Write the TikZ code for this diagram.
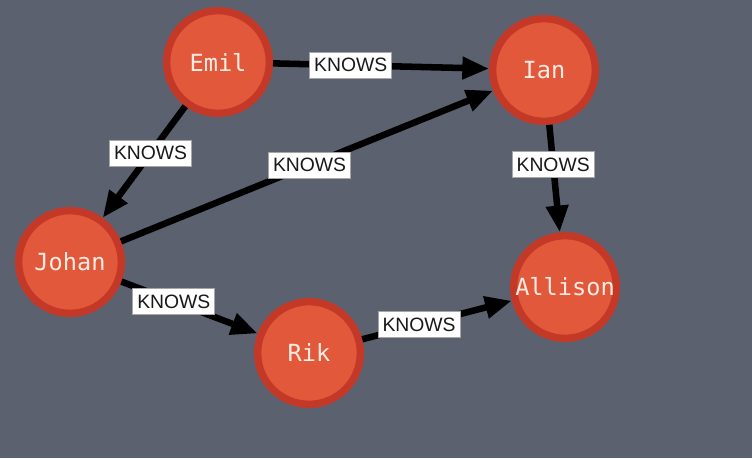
\documentclass[tikz,border=0pt]{standalone}
\usepackage{fontspec}
\setmainfont{Liberation Sans}
\newfontfamily\namefont{DejaVu Sans Mono}
\usetikzlibrary{arrows.meta}
\definecolor{bg}{RGB}{92,97,112}
\definecolor{nodefill}{RGB}{226,88,58}
\definecolor{nodeborder}{RGB}{196,56,40}
\definecolor{nametext}{RGB}{253,236,228}
\begin{document}
\begin{tikzpicture}[x=0.75pt,y=-0.75pt,
  person/.style={circle, fill=nodefill, draw=nodeborder, line width=5.5pt,
    minimum size=77pt, inner sep=0pt, outer sep=2.75pt, text=nametext,
    font=\namefont\fontsize{17.7}{20}\selectfont},
  rel/.style={-{Triangle[length=20pt,width=16pt]}, line width=4.9pt, black},
  lbl/.style={fill=white, draw=gray!70, line width=0.6pt,
    font=\fontsize{14.5}{16}\selectfont, inner sep=0pt,
    minimum width=61.5pt, minimum height=19.5pt, text=black!90}]
\useasboundingbox (0,0) rectangle (752,458);
\fill[bg] (0,0) rectangle (752,458);
\node[person] (emil) at (218,62) {Emil};
\node[person] (ian) at (544,70) {Ian};
\node[person] (johan) at (70,262) {Johan};
\node[person] (allison) at (565,287) {Allison};
\node[person] (rik) at (309,353) {Rik};
\draw[rel] (emil) -- node[lbl,pos=0.36] {KNOWS} (ian);
\draw[rel] (emil) -- node[lbl,pos=0.42] {KNOWS} (johan);
\draw[rel] (johan) -- node[lbl,pos=0.507] {KNOWS} (ian);
\draw[rel] (ian) -- node[lbl,pos=0.37] {KNOWS} (allison);
\draw[rel] (johan) -- node[lbl,pos=0.385] {KNOWS} (rik);
\draw[rel] (rik) -- node[lbl,pos=0.38] {KNOWS} (allison);
\end{tikzpicture}
\end{document}
